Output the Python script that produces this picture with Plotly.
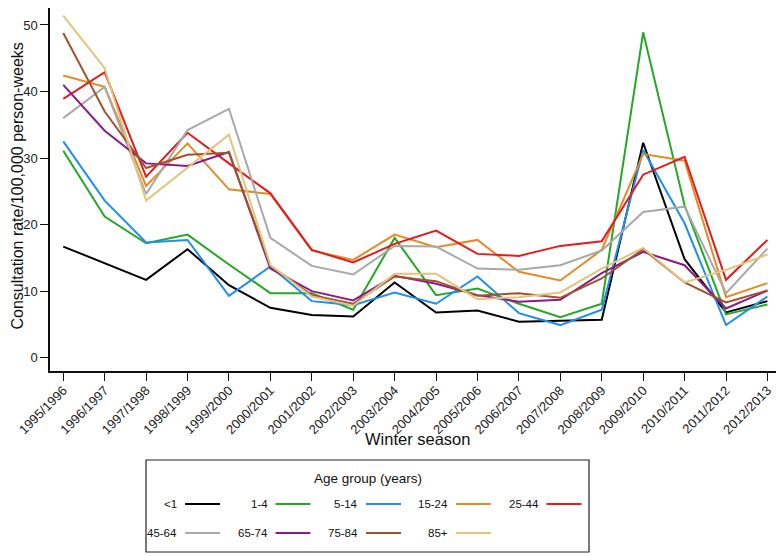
import plotly.graph_objects as go

seasons = ["1995/1996", "1996/1997", "1997/1998", "1998/1999", "1999/2000", "2000/2001",
           "2001/2002", "2002/2003", "2003/2004", "2004/2005", "2005/2006", "2006/2007",
           "2007/2008", "2008/2009", "2009/2010", "2010/2011", "2011/2012", "2012/2013"]

age_lt1 = [16.7, 14.2, 11.7, 16.3, 10.9, 7.5, 6.4, 6.2, 11.3, 6.8, 7.1, 5.4, 5.6, 5.7, 32.3, 14.8, 6.8, 8.5]
age_1_4 = [31.1, 21.2, 17.2, 18.5, 14.0, 9.7, 9.7, 7.2, 18.0, 9.4, 10.4, 8.1, 6.1, 8.1, 48.9, 22.9, 6.5, 8.0]
age_5_14 = [32.5, 23.6, 17.3, 17.7, 9.3, 13.7, 8.5, 7.9, 9.8, 8.1, 12.2, 6.7, 4.9, 7.2, 31.2, 20.2, 4.9, 9.2]
age_15_24 = [42.4, 40.7, 25.8, 32.2, 25.3, 24.6, 16.1, 14.7, 18.5, 16.6, 17.7, 12.9, 11.6, 16.2, 30.6, 29.6, 9.1, 11.2]
age_25_44 = [38.9, 42.9, 27.2, 33.8, 29.2, 24.7, 16.2, 14.3, 17.1, 19.1, 15.6, 15.3, 16.8, 17.5, 27.5, 30.2, 11.7, 17.7]
age_45_64 = [36.0, 40.7, 24.6, 34.2, 37.4, 18.0, 13.8, 12.5, 16.8, 16.7, 13.4, 13.2, 13.9, 16.1, 21.9, 22.7, 9.7, 16.4]
age_65_74 = [41.0, 34.1, 29.2, 28.8, 30.9, 13.4, 10.0, 8.6, 12.3, 11.1, 9.4, 8.4, 8.7, 12.7, 15.9, 13.9, 7.4, 10.1]
age_75_84 = [48.8, 37.0, 28.5, 30.5, 30.8, 13.8, 9.4, 8.1, 12.2, 11.5, 9.3, 9.7, 9.0, 11.9, 16.3, 11.3, 8.3, 10.1]
age_85p = [51.4, 43.5, 23.6, 28.6, 33.5, 13.9, 9.2, 7.8, 12.6, 12.6, 8.8, 9.1, 9.8, 13.4, 16.5, 11.3, 13.2, 15.5]

group_labels = ["<1", "1-4", "5-14", "15-24", "25-44", "45-64", "65-74", "75-84", "85+"]
group_values = [age_lt1, age_1_4, age_5_14, age_15_24, age_25_44, age_45_64, age_65_74, age_75_84, age_85p]
group_colors = ["#000000", "#25a825", "#1f8ef1", "#e38b25", "#e41a1c",
                "#a9a9a9", "#8b1a8b", "#a0522d", "#e2c57a"]

y_ticks = [0, 10, 20, 30, 40, 50]

FONT = "Liberation Sans, Arial, sans-serif"

fig = go.Figure()
for lab, vals, col in zip(group_labels, group_values, group_colors):
    fig.add_trace(go.Scatter(x=seasons, y=vals, mode="lines", name=lab,
                             line=dict(color=col, width=2), showlegend=False))

# page offset from the default body margin of the html page
OFF = 8
W, H = 784 - OFF, 556 - OFF
L, R, T, B = 42, 0, 0, 185
pw, ph = W - L - R, H - T - B
plot_left_page = OFF + L
plot_bottom_page = OFF + H - B


def px(x):
    """page pixel x -> paper coordinate"""
    return (x - plot_left_page) / pw


def py(y):
    """page pixel y -> paper coordinate"""
    return (plot_bottom_page - y) / ph


shapes = []
annotations = []

# axis titles
annotations.append(dict(xref="paper", yref="paper", x=px(417), y=py(439),
                        text="Winter season", showarrow=False,
                        xanchor="center", yanchor="middle",
                        font=dict(family=FONT, size=16.5, color="#111111")))
annotations.append(dict(xref="paper", yref="paper", x=px(17.5), y=py(186),
                        text="Consultation rate/100,000 person-weeks", showarrow=False,
                        textangle=-90, xanchor="center", yanchor="middle",
                        font=dict(family=FONT, size=16, color="#111111")))

# legend box
shapes.append(dict(type="rect", xref="paper", yref="paper",
                   x0=px(146), x1=px(589), y0=py(460), y1=py(552),
                   line=dict(color="#222222", width=1.2), fillcolor="rgba(0,0,0,0)"))
annotations.append(dict(xref="paper", yref="paper", x=px(367.5), y=py(479),
                        text="Age group (years)", showarrow=False,
                        xanchor="center", yanchor="middle",
                        font=dict(family=FONT, size=13.5, color="#111111")))
col_ends = [179, 269.5, 360, 450, 540.5]
row_ys = [504, 533]
for k, (lab, col) in enumerate(zip(group_labels, group_colors)):
    r, c = divmod(k, 5)
    xe = col_ends[c]
    yy = row_ys[r]
    annotations.append(dict(xref="paper", yref="paper", x=px(xe), y=py(yy),
                            text=lab, showarrow=False, xanchor="right", yanchor="middle",
                            font=dict(family=FONT, size=11.5, color="#111111")))
    shapes.append(dict(type="line", xref="paper", yref="paper",
                       x0=px(xe + 6), x1=px(xe + 41), y0=py(yy), y1=py(yy),
                       line=dict(color=col, width=2)))

fig.update_layout(
    width=W, height=H,
    margin=dict(l=L, r=R, t=T, b=B, pad=0, autoexpand=False),
    paper_bgcolor="white", plot_bgcolor="white",
    font=dict(family=FONT, size=13, color="#111111"),
    shapes=shapes, annotations=annotations,
    xaxis=dict(
        type="category", range=[-0.32, 17.4],
        showline=True, linecolor="#111111", linewidth=1.5,
        ticks="outside", ticklen=8, tickwidth=1.2, tickcolor="#111111",
        tickangle=-45, tickfont=dict(family=FONT, size=13, color="#222222"),
        ticklabelstandoff=-3,
        showgrid=False, zeroline=False, automargin=False,
    ),
    yaxis=dict(
        range=[-2.0, 52.55], tickvals=y_ticks,
        showline=True, linecolor="#111111", linewidth=1.5,
        ticks="outside", ticklen=8, tickwidth=1.2, tickcolor="#111111",
        tickfont=dict(family=FONT, size=13, color="#222222"),
        showgrid=False, zeroline=False, automargin=False,
    ),
)

fig.write_html("out.html")
